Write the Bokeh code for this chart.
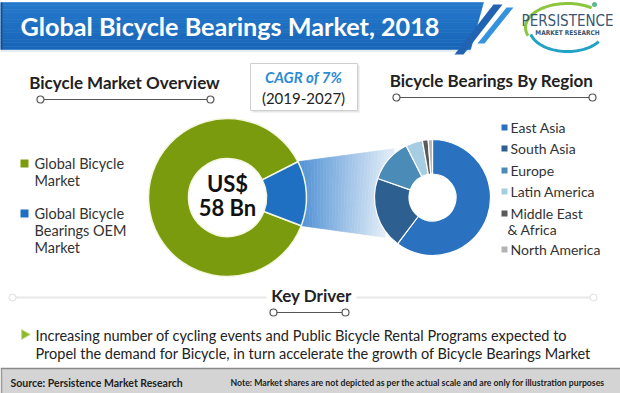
import numpy as np
from bokeh.plotting import figure
from bokeh.models import Range1d
from bokeh.core.properties import value
from bokeh.embed import file_html
from bokeh.resources import INLINE

# ---------------- data ----------------
title = "Global Bicycle Bearings Market, 2018"
overview_heading = "Bicycle Market Overview"
region_heading = "Bicycle Bearings By Region"
overview_labels = [["Global Bicycle", "Market"], ["Global Bicycle", "Bearings OEM", "Market"]]
overview_shares = [86.7, 13.3]
overview_colors = ["#7b9b0e", "#1f70c2"]
region_labels = [["East Asia"], ["South Asia"], ["Europe"], ["Latin America"],
                 ["Middle East", "& Africa"], ["North America"]]
region_shares = [60.3, 20.0, 12.2, 4.7, 1.6, 1.2]
region_colors = ["#2a72c0", "#2d5f90", "#4a8bb8", "#a6cde2", "#5a5a5a", "#b4b4b4"]
market_size = ["US$", "58 Bn"]
cagr_text = "CAGR of 7%"
cagr_period = "(2019-2027)"
driver_heading = "Key Driver"
driver_lines = ["Increasing number of cycling events and Public Bicycle Rental Programs expected to",
                "Propel the demand for Bicycle, in turn accelerate the growth of Bicycle Bearings Market"]
source_text = "Source: Persistence Market Research"
note_text = "Note: Market shares are not depicted as per the actual scale and are only for illustration purposes"
logo_name = "PERSISTENCE"
logo_sub = "MARKET RESEARCH"

# ---------------- layout ----------------
W, H = 620, 393
FONT = "Lato"


def Y(v):
    return H - v


p = figure(width=W, height=H, x_range=Range1d(0, W), y_range=Range1d(0, H),
           output_backend="svg", toolbar_location=None, min_border=0,
           x_axis_type=None, y_axis_type=None)
p.grid.visible = False
p.outline_line_color = None
p.background_fill_color = "white"


def lerp_color(c1, c2, t):
    a = [int(c1[i:i + 2], 16) for i in (1, 3, 5)]
    b = [int(c2[i:i + 2], 16) for i in (1, 3, 5)]
    return "#%02x%02x%02x" % tuple(int(round(a[k] + (b[k] - a[k]) * t)) for k in range(3))


def txt(x, y, s, size, color="#222222", style="normal", align="left", font=FONT, baseline="middle"):
    p.text(x=[x], y=[Y(y)], text=[s], text_font=value(font), text_font_size=f"{size}px",
           text_color=color, text_font_style=style, text_align=align, text_baseline=baseline)


# ---------------- header banner ----------------
nb = 14
bx0, bx1, bslant, btop, bbot = 0, 483, 13, 2, 49
for i in range(nb):
    t0, t1 = i / nb, (i + 1) / nb
    y0 = btop + (bbot - btop) * t0
    y1 = btop + (bbot - btop) * t1
    xr0 = bx1 - bslant * t0
    xr1 = bx1 - bslant * t1
    p.patch([bx0, xr0, xr1, bx0], [Y(y0), Y(y0), Y(y1), Y(y1)],
            color=lerp_color("#2479cc", "#1865b8", (t0 + t1) / 2), line_width=0.6)
p.line([1, 1], [Y(btop), Y(bbot)], line_color="#1a4f8a", line_width=2)
p.line([0, bx1 - bslant], [Y(bbot + 1.5), Y(bbot + 1.5)], line_color="#e4ecf4", line_width=2)
# slanted stripes
p.patch([493, 502, 463, 454], [Y(4), Y(4), Y(54), Y(54)], color="#2163b2", line_width=0)
p.patch([506, 513, 484, 477], [Y(7), Y(7), Y(43), Y(43)], color="#3592dc", line_width=0)
txt(20, 25, title, 25.2, color="white", style="bold")

# logo
cx_l, cy_l = 567, 27
th = np.linspace(np.radians(55), np.radians(200), 40)
p.line(cx_l + 42 * np.cos(th), Y(cy_l) + 24 * np.sin(th), line_color="#8cc63f", line_width=3)
th = np.linspace(np.radians(195), np.radians(325), 40)
p.line(cx_l + 38 * np.cos(th), Y(cy_l + 1) + 23 * np.sin(th), line_color="#22a3c6", line_width=3)
p.scatter([594], [Y(4)], size=5, fill_color="#5fb88a", line_color=None)
txt(567, 20, logo_name, 15, color="#3a5672", align="center", font="DejaVu Sans Condensed")
txt(567, 32, logo_sub, 6.5, color="#3a5672", style="bold", align="center",
    font="DejaVu Sans Condensed")

# ---------------- section headings ----------------
txt(124, 82, overview_heading, 17, style="bold", align="center")
txt(491, 80, region_heading, 17, style="bold", align="center")


def underline(x0, x1, y):
    p.line([x0, x1], [Y(y), Y(y)], line_color="#555555", line_width=1.2)
    p.scatter([x0, x1], [Y(y), Y(y)], size=7, fill_color="white", line_color="#555555",
              line_width=1.2)


underline(40, 210, 99)
underline(396, 592, 97)

# CAGR box
p.quad(left=[252], right=[359], top=[Y(65)], bottom=[Y(112)], fill_color="#e6e6e6",
       line_color=None)
p.quad(left=[250], right=[357], top=[Y(63)], bottom=[Y(110)], fill_color="white",
       line_color="#cfcfcf", line_width=1)
txt(303, 76, cagr_text, 15, color="#2b8bd6", style="bold italic", align="center")
txt(303, 97, cagr_period, 15, align="center")

# ---------------- donuts ----------------
lcx, lcy, lro, lri = 227, 197, 79, 39
rcx, rcy, rro, rri = 432, 197, 58, 23.5

oem_span = 2 * np.pi * overview_shares[1] / sum(overview_shares)
oem_mid = np.radians(3)
oem_start, oem_end = oem_mid - oem_span / 2, oem_mid + oem_span / 2

# connector with gradient
TL = (lcx + lro * np.cos(oem_end), Y(lcy) + lro * np.sin(oem_end))
BL = (lcx + lro * np.cos(oem_start), Y(lcy) + lro * np.sin(oem_start))
TR = (rcx + 62 * np.cos(np.radians(128)), Y(rcy) + 62 * np.sin(np.radians(128)))
BR = (rcx + 62 * np.cos(np.radians(220)), Y(rcy) + 62 * np.sin(np.radians(220)))
ns = 30
for i in range(ns):
    t0, t1 = i / ns, (i + 1) / ns
    tx0 = TL[0] + (TR[0] - TL[0]) * t0
    ty0 = TL[1] + (TR[1] - TL[1]) * t0
    tx1 = TL[0] + (TR[0] - TL[0]) * t1
    ty1 = TL[1] + (TR[1] - TL[1]) * t1
    bx0_ = BL[0] + (BR[0] - BL[0]) * t0
    by0 = BL[1] + (BR[1] - BL[1]) * t0
    bx1_ = BL[0] + (BR[0] - BL[0]) * t1
    by1 = BL[1] + (BR[1] - BL[1]) * t1
    p.patch([tx0, tx1, bx1_, bx0_], [ty0, ty1, by1, by0],
            color=lerp_color("#4f90d4", "#e4eef8", (t0 + t1) / 2), line_width=0.6)

# left donut
p.annular_wedge(x=[lcx, lcx], y=[Y(lcy), Y(lcy)], inner_radius=lri, outer_radius=lro,
                start_angle=[oem_end, oem_start], end_angle=[oem_start + 2 * np.pi, oem_end],
                fill_color=overview_colors, line_color="#f4f7e0", line_width=1.5)
for k, s in enumerate(market_size):
    txt(lcx, 183 + 24 * k, s, 22, color="#111111", style="bold", align="center")

# right donut, clockwise from 12 o'clock
fr = np.array(region_shares) / sum(region_shares)
cum = np.concatenate([[0], np.cumsum(fr)])
ends = np.pi / 2 - 2 * np.pi * cum[:-1]
starts = np.pi / 2 - 2 * np.pi * cum[1:]
p.annular_wedge(x=[rcx] * len(fr), y=[Y(rcy)] * len(fr), inner_radius=rri, outer_radius=rro,
                start_angle=list(starts), end_angle=list(ends), fill_color=region_colors,
                line_color="white", line_width=1.2)

# ---------------- legends ----------------
ly = [[163, 180], [213, 230, 247]]
for k, lines in enumerate(overview_labels):
    p.rect(x=[24], y=[Y(ly[k][0])], width=8, height=8, fill_color=overview_colors[k],
           line_color=None)
    for j, s in enumerate(lines):
        txt(34, ly[k][j], s, 14.5, color="#333333")

ry = [[127], [148], [170], [191], [213, 229], [249]]
for k, lines in enumerate(region_labels):
    p.rect(x=[504], y=[Y(ry[k][0])], width=6, height=6, fill_color=region_colors[k],
           line_color=None)
    for j, s in enumerate(lines):
        txt(510 if j == 0 else 507, ry[k][j], s, 14, color="#333333")

# ---------------- key driver ----------------
p.line([12, 593], [Y(297), Y(297)], line_color="#e8e8e8", line_width=2)
p.scatter([12, 593], [Y(297), Y(297)], size=7, fill_color="white", line_color="#e0e0e0")
p.quad(left=[266], right=[356], top=[Y(286)], bottom=[Y(305)], fill_color="white",
       line_color=None)
txt(311, 295, driver_heading, 17, color="#222222", style="bold", align="center")
underline(273, 345, 312)
p.scatter([24], [Y(334)], marker="triangle", angle=-np.pi / 2, size=10,
          fill_color="#8cb82b", line_color="#c8dc8a")
for j, s in enumerate(driver_lines):
    txt(35, 335 + 18 * j, s, 14.5, color="#222222")

# ---------------- footer ----------------
p.quad(left=[0], right=[W], top=[Y(368)], bottom=[0], fill_color="#d4d4d4", line_color=None)
p.line([0, W], [Y(368), Y(368)], line_color="#8a8a8a", line_width=1.5)
p.line([1, 1], [Y(368), 0], line_color="#9a9a9a", line_width=1.5)
txt(10, 382, source_text, 10.5, color="#222222", style="bold")
txt(230, 382, note_text, 8.7, color="#222222", style="bold")

open("out.html", "w").write(file_html(p, INLINE))
